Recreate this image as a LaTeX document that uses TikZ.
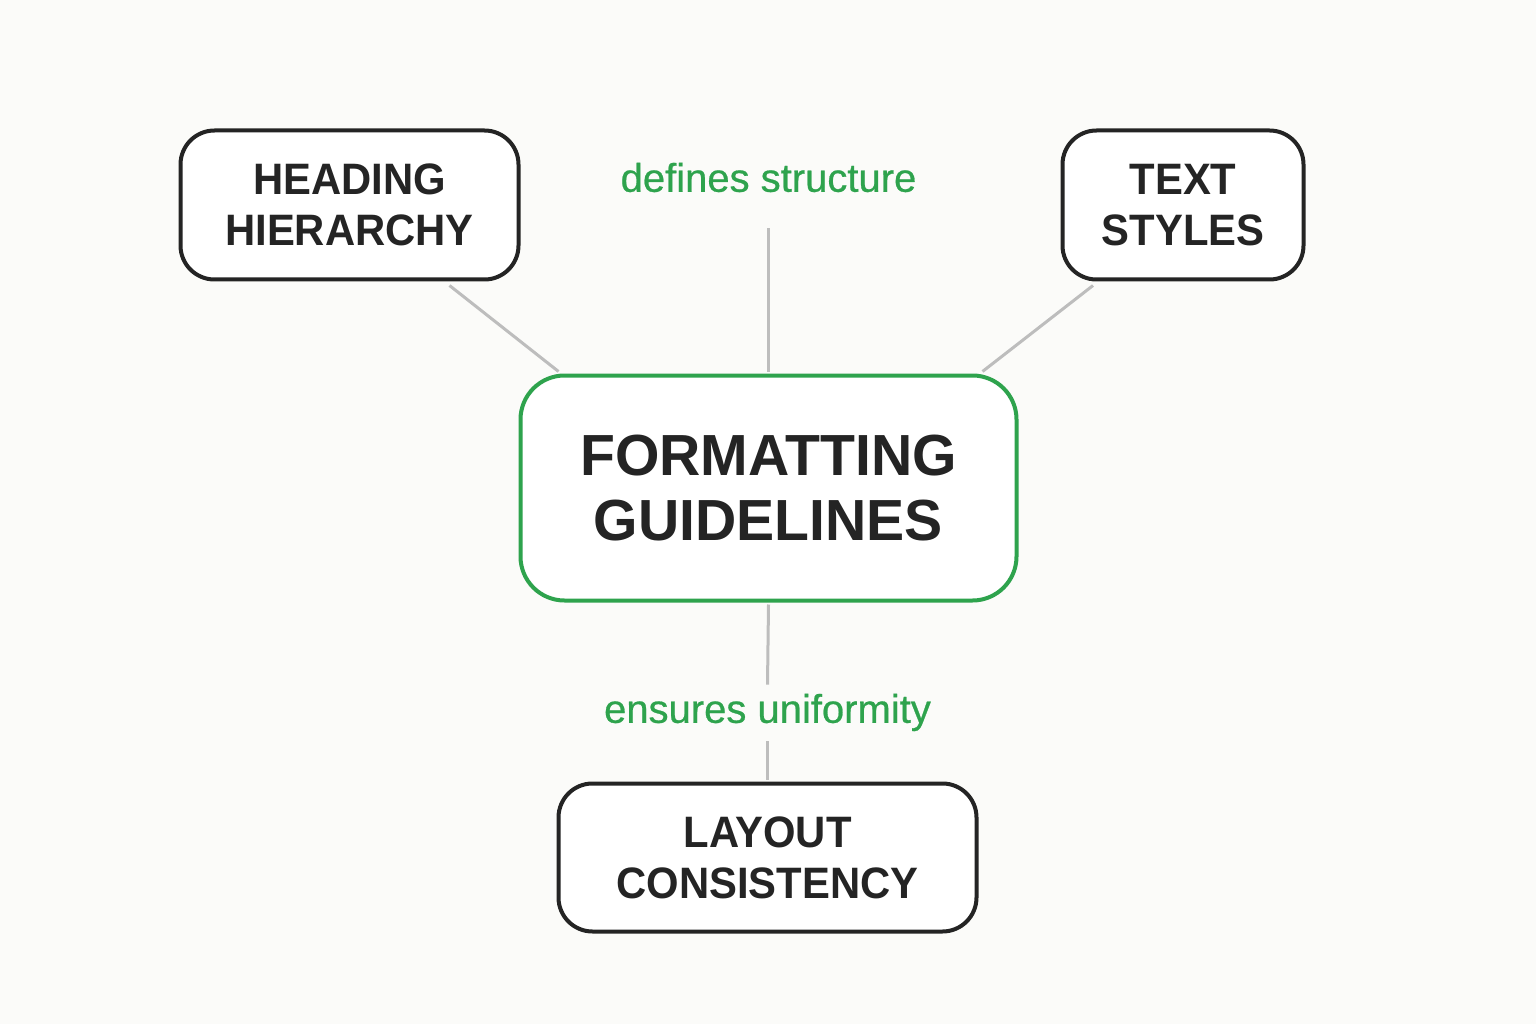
\documentclass[tikz,border=0pt]{standalone}
\usepackage{fontspec}
\setmainfont{Liberation Sans}
\newfontfamily\boxfont{Liberation Sans}[FakeStretch=0.95]
\newfontfamily\bigfont{Liberation Sans}[FakeStretch=0.985]
\newfontfamily\labfont{Liberation Sans}[FakeStretch=1.0,FakeBold=0.6]
\definecolor{bgc}{HTML}{FBFBF9}
\definecolor{ink}{HTML}{242424}
\definecolor{grn}{HTML}{2EA34D}
\definecolor{lgray}{HTML}{BDBDBD}
\begin{document}
\begin{tikzpicture}[x=1pt,y=-1pt,
  box/.style={draw=ink,line width=4pt,rounded corners=34pt,fill=white,align=center,
    text=ink,font=\boxfont\bfseries\fontsize{44}{51}\selectfont,inner sep=0pt},
  mainbox/.style={draw=grn,line width=4pt,rounded corners=44pt,fill=white,align=center,
    text=ink,font=\bigfont\bfseries\fontsize{58}{65}\selectfont,inner sep=0pt,
    minimum width=496pt,minimum height=225pt},
  lab/.style={text=grn,font=\labfont\fontsize{40}{46}\selectfont,inner sep=0pt},
  conn/.style={draw=lgray,line width=3pt}]
\fill[bgc] (0,0) rectangle (1536,1024);
\useasboundingbox (0,0) rectangle (1536,1024);
\node[box,minimum width=338pt,minimum height=149pt] (head) at (349.5,205) {HEADING\\HIERARCHY};
\node[box,minimum width=241pt,minimum height=149pt] (text) at (1183,205) {TEXT\\STYLES};
\node[mainbox] (center) at (768.5,488) {FORMATTING\\GUIDELINES};
\node[box,minimum width=418pt,minimum height=148pt] (lay) at (767.5,857.5) {LAYOUT\\CONSISTENCY};
\node[lab] (def) at (768.5,177.5) {defines structure};
\node[lab] (ens) at (767.5,712.5) {ensures uniformity};
\draw[conn] ([xshift=100pt,yshift=-4pt]head.south) -- ([xshift=-210pt,yshift=2pt]center.north);
\draw[conn] ([xshift=-90pt,yshift=-4pt]text.south) -- ([xshift=214pt,yshift=2pt]center.north);
\draw[conn] ([yshift=-36pt]def.south) -- ([yshift=2pt]center.north);
\draw[conn] ([yshift=-2pt]center.south) -- ([yshift=9pt]ens.north);
\draw[conn] ([yshift=-10pt]ens.south) -- ([yshift=2pt]lay.north);
\end{tikzpicture}
\end{document}
